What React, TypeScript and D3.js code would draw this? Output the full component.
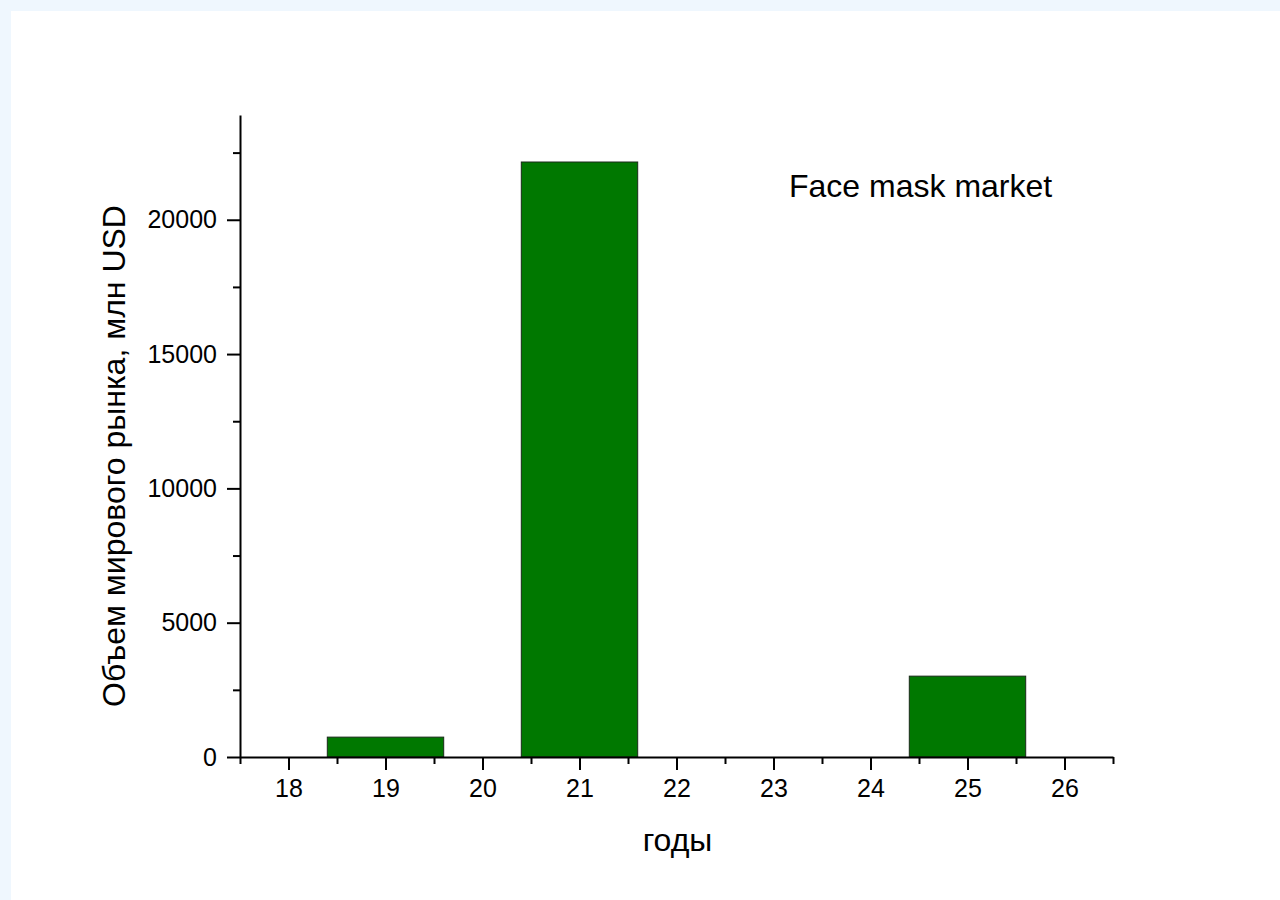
import { useEffect, useRef } from 'react';
import * as d3 from 'd3';

// years (last two digits) and market volume, mln USD
const years = [19, 21, 25];
const values = [740, 22150, 3010];
const xTicks = [18, 19, 20, 21, 22, 23, 24, 25, 26];
const xMinorTicks = [17.5, 18.5, 19.5, 20.5, 21.5, 22.5, 23.5, 24.5, 25.5, 26.5];
const yTicks = [0, 5000, 10000, 15000, 20000];
const yMinorTicks = [2500, 7500, 12500, 17500, 22500];

const App = () => {
  const svgRef = useRef<SVGSVGElement | null>(null);

  const width = 1280;
  const height = 900;
  const marginTop = 115;
  const marginRight = 167;
  const marginBottom = 143;
  const marginLeft = 240;
  const font = '"Liberation Sans", Arial, sans-serif';

  useEffect(() => {
    const svgElement = svgRef.current;
    if (!svgElement) return;

    const svg = d3.select(svgElement);
    svg.selectAll('*').remove();

    svg.append('rect').attr('width', width).attr('height', height).attr('fill', '#eff7fe');
    svg.append('rect').attr('x', 11).attr('y', 11).attr('width', width - 11).attr('height', height - 11).attr('fill', '#ffffff');

    const x = d3.scaleLinear().domain([17.5, 26.5]).range([marginLeft, width - marginRight]);
    const y = d3.scaleLinear().domain([0, 23900]).range([height - marginBottom, marginTop]);

    svg.append('g')
      .selectAll('rect')
      .data(years)
      .join('rect')
      .attr('x', d => x(d - 0.6))
      .attr('width', d => x(d + 0.6) - x(d - 0.6))
      .attr('y', (_, i) => y(values[i]))
      .attr('height', (_, i) => y(0) - y(values[i]))
      .attr('fill', '#007800')
      .attr('stroke', '#1a2a1a')
      .attr('stroke-width', 1);

    const styleAxis = (g: d3.Selection<SVGGElement, unknown, null, undefined>) => {
      g.selectAll('path, line').attr('stroke', '#000').attr('stroke-width', 2);
      g.selectAll('text').attr('font-family', font).attr('font-size', 25).attr('fill', '#000');
    };

    // x axis
    svg.append('g')
      .attr('transform', `translate(0,${height - marginBottom})`)
      .call(d3.axisBottom(x).tickValues(xMinorTicks).tickSize(7).tickSizeOuter(0).tickFormat(() => ''))
      .call(styleAxis);
    svg.append('g')
      .attr('transform', `translate(0,${height - marginBottom})`)
      .call(d3.axisBottom(x).tickValues(xTicks).tickSize(13).tickSizeOuter(0).tickPadding(9).tickFormat(d3.format('d')))
      .call(styleAxis)
      .call(g => g.select('.domain').remove());

    // y axis
    svg.append('g')
      .attr('transform', `translate(${marginLeft},0)`)
      .call(d3.axisLeft(y).tickValues(yMinorTicks).tickSize(7).tickSizeOuter(0).tickFormat(() => ''))
      .call(styleAxis);
    svg.append('g')
      .attr('transform', `translate(${marginLeft},0)`)
      .call(d3.axisLeft(y).tickValues(yTicks).tickSize(13).tickSizeOuter(0).tickPadding(10).tickFormat(d3.format('d')))
      .call(styleAxis)
      .call(g => g.select('.domain').remove());

    svg.append('text')
      .attr('x', (x(17.5) + x(26.5)) / 2 + 1)
      .attr('y', 851)
      .attr('text-anchor', 'middle')
      .attr('font-family', font)
      .attr('font-size', 32)
      .text('годы');

    svg.append('text')
      .attr('transform', `translate(125,${(y(0) + y(23900)) / 2 + 20}) rotate(-90)`)
      .attr('text-anchor', 'middle')
      .attr('font-family', font)
      .attr('font-size', 32)
      .text('Объем мирового рынка, млн USD');

    svg.append('text')
      .attr('x', 789)
      .attr('y', 197)
      .attr('font-family', font)
      .attr('font-size', 32)
      .text('Face mask market');
  }, []);

  return (
    <svg
      ref={svgRef}
      width={width}
      height={height}
      style={{ position: 'absolute', left: 0, top: 0, display: 'block' }}
    />
  );
};

export default App;
